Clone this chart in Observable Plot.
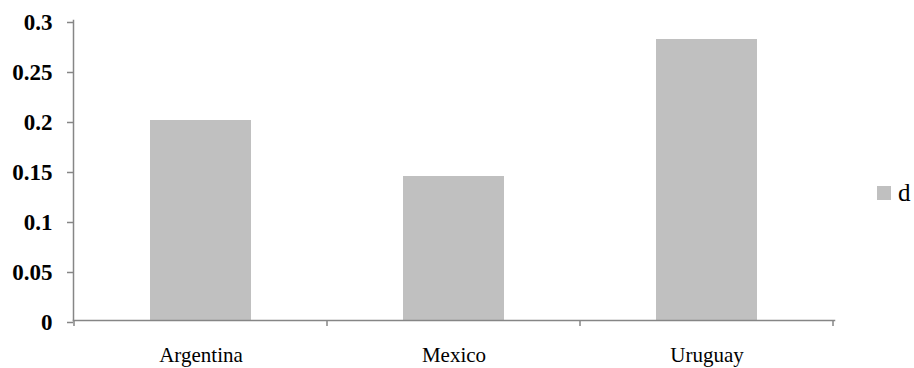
<!DOCTYPE html>
<html>
<head>
<meta charset="utf-8">
<script src="https://cdn.jsdelivr.net/npm/d3@7"></script>
<script src="https://cdn.jsdelivr.net/npm/@observablehq/plot@0.6"></script>
<style>
  body { margin: 0; background: #fff; }
  #chart { position: relative; width: 914px; height: 368px; }
  .legend { position: absolute; left: 877px; top: 179px; display: flex; align-items: center;
            font-family: "Liberation Serif"; font-size: 25px; color: #000; }
  .legend .sw { width: 14px; height: 14px; margin-right: 7px; }
</style>
</head>
<body>
<div id="chart"></div>
<script>
// Countries and their values for series "d"
const countries = ["Argentina", "Mexico", "Uruguay"];
const values = [0.2, 0.144, 0.281];
const yTicks = [0, 0.05, 0.1, 0.15, 0.2, 0.25, 0.3];
const seriesName = "d";

const barColor = "#c0c0c0";
const axisColor = "#868686";
const serif = "Liberation Serif";

const data = countries.map((c, i) => ({country: c, value: values[i]}));

// Category separator ticks under the baseline, at the edges of each band
function bandEdgeTicks(index, scales) {
  const x = scales.x;
  const bw = typeof x.bandwidth === "function" ? x.bandwidth() : scales.scales.x.bandwidth;
  const step = typeof x.step === "function" ? x.step() : scales.scales.x.step;
  const gap = (step - bw) / 2;
  const edges = countries.map(c => x(c) - gap);
  edges.push(x(countries[countries.length - 1]) + bw + gap);
  const y0 = scales.y(0);
  const g = d3.create("svg:g").attr("stroke", axisColor).attr("stroke-width", 1.5);
  g.selectAll("line").data(edges).join("line")
    .attr("x1", d => d).attr("x2", d => d)
    .attr("y1", y0).attr("y2", y0 + 6);
  return g.node();
}

const plot = Plot.plot({
  width: 914,
  height: 368,
  marginLeft: 73,
  marginRight: 80,
  marginTop: 20,
  marginBottom: 48,
  style: {fontFamily: serif, fontSize: "21px", color: "#000", background: "#fff"},
  x: {domain: countries, paddingInner: 0.6, paddingOuter: 0.3, label: null},
  y: {domain: [0, 0.3], label: null},
  marks: [
    Plot.barY(data, {x: "country", y: "value", fill: barColor}),
    Plot.axisY({ticks: yTicks, tickFormat: d => String(d), tickSize: 6, tickPadding: 15,
                stroke: axisColor, strokeWidth: 1.5, fill: "#000",
                fontSize: 23, fontWeight: "bold", dy: 2}),
    Plot.axisX({tickSize: 0, tickPadding: 27, fill: "#000", fontSize: 21}),
    Plot.frame({anchor: "left", stroke: axisColor, strokeWidth: 1.5}),
    Plot.frame({anchor: "bottom", stroke: axisColor, strokeWidth: 1.5}),
    bandEdgeTicks
  ]
});

const chart = document.getElementById("chart");
chart.appendChild(plot);

const legend = document.createElement("div");
legend.className = "legend";
const sw = document.createElement("span");
sw.className = "sw";
sw.style.background = barColor;
const lab = document.createElement("span");
lab.textContent = seriesName;
legend.append(sw, lab);
chart.appendChild(legend);
</script>
</body>
</html>
